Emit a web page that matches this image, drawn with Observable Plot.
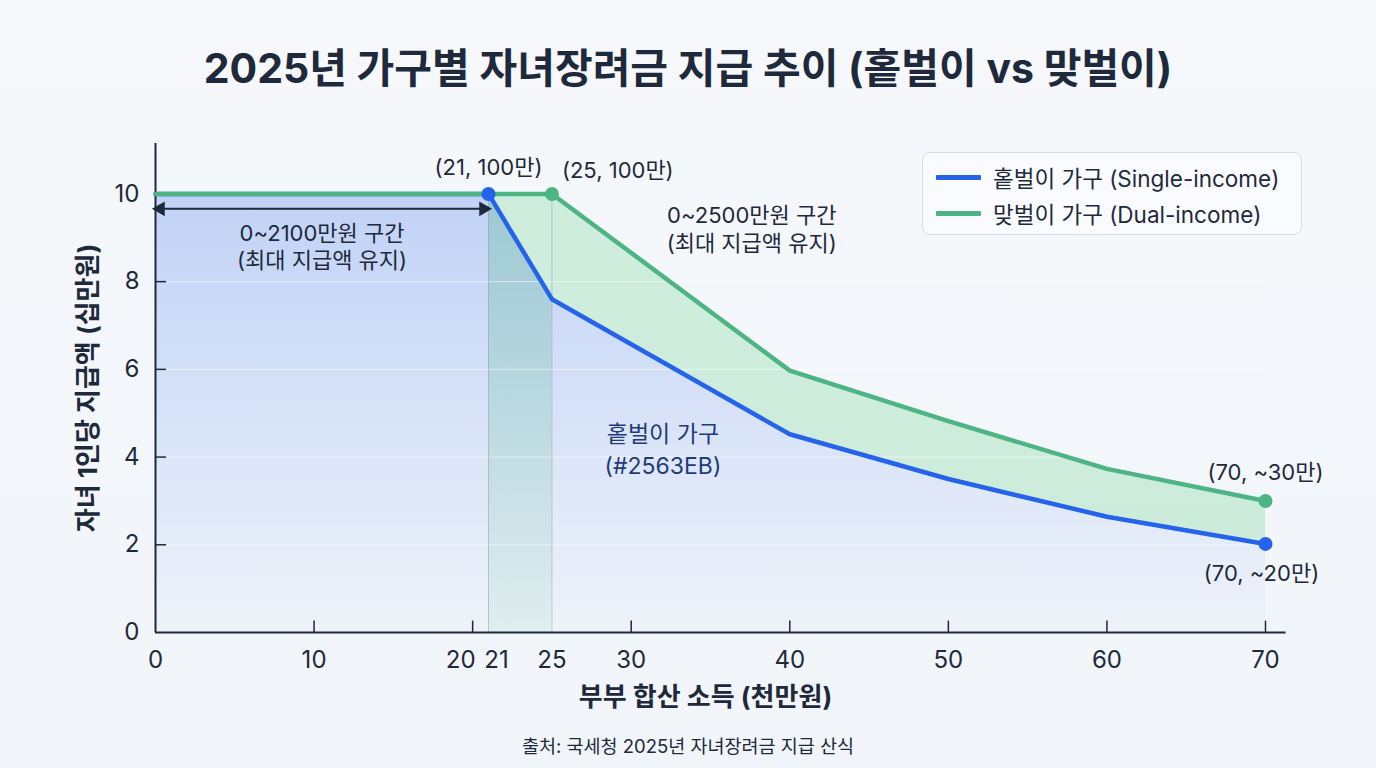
<!DOCTYPE html>
<html lang="ko">
<head>
<meta charset="utf-8">
<title>2025년 가구별 자녀장려금 지급 추이</title>
<script src="https://cdn.jsdelivr.net/npm/d3@7"></script>
<script src="https://cdn.jsdelivr.net/npm/@observablehq/plot@0.6"></script>
<style>
  html, body { margin: 0; padding: 0; }
  body {
    width: 1376px; height: 768px; overflow: hidden; position: relative;
    background: linear-gradient(180deg, #f6f8fb 0%, #f1f5f9 100%);
    font-family: Inter, "Noto Sans CJK KR", sans-serif; color: #1e293b;
  }
  #title {
    position: absolute; top: 40px; left: 0; width: 1376px; text-align: center;
    font-size: 41px; font-weight: 700; color: #1e293b; line-height: 56px;
  }
  #chart { position: absolute; top: 110px; left: 0; }
  #legend {
    position: absolute; left: 922px; top: 152px; width: 380px; height: 83px;
    box-sizing: border-box; border: 1px solid #d6dce4; border-radius: 8px;
    background: rgba(250, 252, 254, 0.85); padding: 6px 0 0 13px;
  }
  .item { display: flex; align-items: center; height: 36px; font-size: 22.5px; color: #1e293b; }
  .swatch { width: 45px; height: 5px; border-radius: 1px; margin-right: 12px; }
  #caption {
    position: absolute; top: 732px; left: 0; width: 1376px; text-align: center;
    font-size: 18.5px; color: #1e293b;
  }
</style>
</head>
<body>
<div id="title">2025년 가구별 자녀장려금 지급 추이 (홑벌이 vs 맞벌이)</div>
<div id="chart"></div>
<div id="legend"></div>
<div id="caption">출처: 국세청 2025년 자녀장려금 지급 산식</div>
<script>
// 부부 합산 소득 (천만원) 구간별 자녀 1인당 지급액 (십만원)
const income = [0, 21, 25, 40, 50, 60, 70];
const singleBenefit = [10, 10, 7.6, 4.52, 3.5, 2.64, 2.02];
const dualBenefit = [10, 10, 10, 5.97, 4.82, 3.73, 3.0];

const seriesNames = ["홑벌이 가구 (Single-income)", "맞벌이 가구 (Dual-income)"];
const seriesColors = ["#2563EB", "#4DB584"];

const xTicks = [0, 10, 20, 21, 25, 30, 40, 50, 60, 70];
const yTicks = [0, 2, 4, 6, 8, 10];

// 최대 지급액 유지 구간의 끝점 (천만원)
const singleFlatEnd = 21;
const dualFlatEnd = 25;

const rows = income.map((x, i) => ({income: x, single: singleBenefit[i], dual: dualBenefit[i]}));
const singleDots = rows.filter(d => d.income === singleFlatEnd || d.income === 70);
const dualDots = rows.filter(d => d.income === dualFlatEnd || d.income === 70);
const transition = rows.filter(d => d.income >= singleFlatEnd && d.income <= dualFlatEnd);
const last = rows[rows.length - 1];

// gradient fills used by the area marks
function gradients() {
  const ns = "http://www.w3.org/2000/svg";
  const g = document.createElementNS(ns, "g");
  g.innerHTML = `<defs>
    <linearGradient id="blueFade" x1="0" y1="0" x2="0" y2="1">
      <stop offset="0" stop-color="#2563EB" stop-opacity="0.25"/>
      <stop offset="1" stop-color="#2563EB" stop-opacity="0.02"/>
    </linearGradient>
    <linearGradient id="greenFade" x1="0" y1="0" x2="0" y2="1">
      <stop offset="0" stop-color="#4DB584" stop-opacity="0.32"/>
      <stop offset="1" stop-color="#4DB584" stop-opacity="0.08"/>
    </linearGradient>
  </defs>`;
  return g;
}

const ink = "#1e293b";
const fmt = v => `${v}`;
const tickFont = 24;
const noteFont = 22;

const chart = Plot.plot({
  width: 1376,
  height: 610,
  marginLeft: 155,
  marginRight: 111,
  marginTop: 33,
  marginBottom: 88,
  style: {background: "transparent", fontFamily: "Inter, 'Noto Sans CJK KR', sans-serif", color: ink, overflow: "visible"},
  x: {domain: [0, 70], axis: null},
  y: {domain: [0, 11.15], axis: null},
  marks: [
    gradients,
    // 홑벌이 지급액 아래 영역
    Plot.areaY(rows, {x: "income", y: "single", fill: "url(#blueFade)"}),
    // 21~25 구간 (맞벌이만 최대 지급)
    Plot.areaY(transition, {x: "income", y: "single", fill: "url(#greenFade)"}),
    // 맞벌이와 홑벌이 차이
    Plot.areaY(rows, {x: "income", y1: "single", y2: "dual", fill: "#5ccf85", fillOpacity: 0.25}),
    // faint horizontal grid
    Plot.ruleY([2, 4, 6, 8], {stroke: "#ffffff", strokeOpacity: 0.55, strokeWidth: 1}),
    // boundary markers at 21 and 25
    Plot.ruleX([singleFlatEnd, dualFlatEnd], {y1: 0, y2: 10, stroke: "#94a3b8", strokeOpacity: 0.55, strokeWidth: 1}),
    // axes
    Plot.ruleY([0], {x1: 0, x2: 71.3, stroke: ink, strokeWidth: 2}),
    Plot.ruleX([0], {stroke: ink, strokeWidth: 2}),
    Plot.ruleX(xTicks.filter(t => t % 10 === 0 && t > 0), {x: d => d, y1: 0, y2: 0.26, stroke: ink, strokeWidth: 1.5}),
    Plot.ruleY(yTicks.filter(t => t > 0 && t < 10), {y: d => d, x1: 0, x2: 0.7, stroke: ink, strokeWidth: 1.5}),
    Plot.text(xTicks.filter(t => t !== 20 && t !== 21), {x: d => d, y: 0, text: fmt, dy: 28, fontSize: tickFont, fill: ink}),
    Plot.text([20], {x: d => d, y: 0, text: fmt, dx: -12, dy: 28, fontSize: tickFont, fill: ink}),
    Plot.text([21], {x: d => d, y: 0, text: fmt, dx: 8, dy: 28, fontSize: tickFont, fill: ink}),
    Plot.text(yTicks, {x: 0, y: d => d, text: fmt, dx: -16, textAnchor: "end", fontSize: tickFont, fill: ink}),
    Plot.text(["부부 합산 소득 (천만원)"], {frameAnchor: "bottom", lineAnchor: "middle", dx: -5, dy: 65, fontSize: 26, fontWeight: 700, fill: ink}),
    Plot.text(["자녀 1인당 지급액 (십만원)"], {frameAnchor: "left", textAnchor: "middle", lineAnchor: "middle", dx: -67, rotate: -90, fontSize: 26, fontWeight: 700, fill: ink}),
    // 0~2100만원 double-headed arrow
    Plot.link([{x1: 0, x2: singleFlatEnd, y: 9.66}], {x1: "x1", x2: "x2", y1: "y", y2: "y", stroke: ink, strokeWidth: 2}),
    Plot.dot([{x: singleFlatEnd, y: 9.66}], {x: "x", y: "y", symbol: "triangle", rotate: 90, r: 5.5, fill: ink, dx: -5}),
    Plot.dot([{x: 0, y: 9.66}], {x: "x", y: "y", symbol: "triangle", rotate: -90, r: 5.5, fill: ink, dx: 5}),
    Plot.text(["0~2100만원 구간\n(최대 지급액 유지)"], {x: singleFlatEnd / 2, y: 8.82, fontSize: noteFont, lineHeight: 1.25, fill: ink}),
    Plot.text(["0~2500만원 구간\n(최대 지급액 유지)"], {x: 37.6, y: 9.22, fontSize: noteFont, lineHeight: 1.27, fill: ink}),
    Plot.text(["홑벌이 가구\n(#2563EB)"], {x: 32, y: 4.21, fontSize: 23, lineHeight: 1.37, fill: "#1f3b78"}),
    // series lines
    Plot.line(rows, {x: "income", y: "single", stroke: seriesColors[0], strokeWidth: 4.5, strokeLinejoin: "round"}),
    Plot.line(rows, {x: "income", y: "dual", stroke: seriesColors[1], strokeWidth: 4.5, strokeLinejoin: "round"}),
    Plot.dot(dualDots, {x: "income", y: "dual", r: 7, fill: seriesColors[1]}),
    Plot.dot(singleDots, {x: "income", y: "single", r: 7, fill: seriesColors[0]}),
    // point labels
    Plot.text(singleDots.filter(d => d.income === singleFlatEnd), {x: "income", y: "single", text: d => `(${d.income}, ${d.single * 10}만)`, dy: -26, fontSize: noteFont, fill: ink}),
    Plot.text(dualDots.filter(d => d.income === dualFlatEnd), {x: "income", y: "dual", text: d => `(${d.income}, ${d.dual * 10}만)`, dx: 10, dy: -23, textAnchor: "start", fontSize: noteFont, fill: ink}),
    Plot.text([last], {x: "income", y: "dual", text: d => `(${d.income}, ~${Math.round(d.dual * 10)}만)`, dy: -28, fontSize: noteFont, fill: ink}),
    Plot.text([last], {x: "income", y: "single", text: d => `(${d.income}, ~${Math.round(d.single * 10)}만)`, dx: -4, dy: 30, fontSize: noteFont, fill: ink})
  ]
});
document.getElementById("chart").append(chart);

// legend
const legend = document.getElementById("legend");
seriesNames.forEach((name, i) => {
  const item = document.createElement("div");
  item.className = "item";
  const sw = document.createElement("span");
  sw.className = "swatch";
  sw.style.background = seriesColors[i];
  const label = document.createElement("span");
  label.textContent = name;
  item.append(sw, label);
  legend.append(item);
});
</script>
</body>
</html>
